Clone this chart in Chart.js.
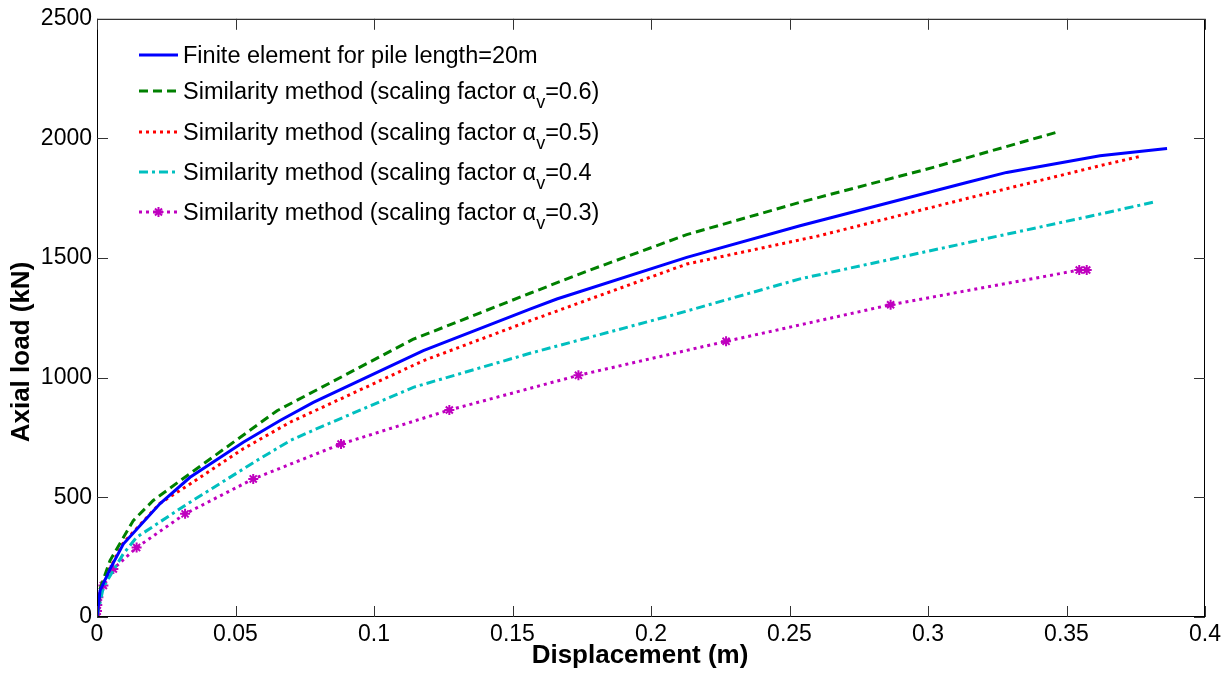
<!DOCTYPE html>
<html><head><meta charset="utf-8">
<script src="https://cdn.jsdelivr.net/npm/chart.js@4"></script>
<style>html,body{margin:0;padding:0;background:#fff}#wrap{width:1232px;height:675px;position:relative}</style>
</head><body><div id="wrap"><canvas id="c"></canvas></div>
<script>
// ---- data (displacement in m, axial load in kN) ----
const xFE  = [0, 0.0011, 0.0047, 0.0095, 0.0227, 0.0336, 0.0528, 0.0661, 0.0781, 0.1178, 0.1563, 0.166, 0.2129, 0.2538, 0.314, 0.3284, 0.3621, 0.3863];
const yFE  = [0, 110, 200, 305, 473, 584, 730, 821, 897, 1113, 1287, 1329, 1503, 1635, 1816, 1858, 1928, 1958];
const xA06 = [0, 0.0011, 0.0047, 0.0131, 0.0203, 0.031, 0.065, 0.114, 0.1563, 0.1768, 0.2129, 0.2538, 0.3019, 0.3462];
const yA06 = [0, 118, 236, 403, 487, 578, 862, 1160, 1353, 1445, 1598, 1733, 1879, 2025];
const xA05 = [0, 0.0011, 0.0047, 0.0095, 0.0227, 0.0336, 0.0528, 0.0697, 0.1178, 0.1563, 0.2129, 0.261, 0.314, 0.3621, 0.3765];
const yA05 = [0, 111, 205, 310, 475, 556, 703, 814, 1071, 1238, 1475, 1594, 1749, 1886, 1925];
const xA04 = [0, 0.0023, 0.0095, 0.0143, 0.032, 0.0577, 0.0697, 0.076, 0.1142, 0.1563, 0.2069, 0.2538, 0.3621, 0.3823];
const yA04 = [0, 125, 264, 333, 468, 654, 737, 770, 960, 1102, 1259, 1413, 1684, 1736];
const xA03 = [0, 0, 0.0001, 0.0005, 0.0023, 0.0059, 0.0143, 0.0318, 0.0564, 0.0881, 0.1272, 0.1738, 0.2271, 0.2865, 0.3546, 0.3573];
const yA03 = [0, 25, 50, 83, 132, 201, 290, 431, 577, 723, 865, 1010, 1152, 1305, 1450, 1450];
const xTicks = [0, 0.05, 0.1, 0.15, 0.2, 0.25, 0.3, 0.35, 0.4];
const yTicks = [0, 500, 1000, 1500, 2000, 2500];
const xTitle = 'Displacement (m)';
const yTitle = 'Axial load (kN)';
const legendMain = ['Finite element for pile length=20m',
  'Similarity method (scaling factor \u03B1', 'Similarity method (scaling factor \u03B1',
  'Similarity method (scaling factor \u03B1', 'Similarity method (scaling factor \u03B1'];
const legendSub = ['', 'v', 'v', 'v', 'v'];
const legendTail = ['', '=0.6)', '=0.5)', '=0.4', '=0.3)'];

const pts = (xs, ys) => xs.map((v, i) => ({x: v, y: ys[i]}));
const FONT = '"Liberation Sans", Arial, sans-serif';

const datasets = [
  {data: pts(xFE, yFE), borderColor: '#0000ff', borderWidth: 3, borderDash: []},
  {data: pts(xA06, yA06), borderColor: '#008000', borderWidth: 3, borderDash: [9, 5]},
  {data: pts(xA05, yA05), borderColor: '#ff0000', borderWidth: 3, borderDash: [3, 4]},
  {data: pts(xA04, yA04), borderColor: '#00bfbf', borderWidth: 3, borderDash: [9, 4, 3, 4]},
  {data: pts(xA03, yA03), borderColor: '#bf00bf', borderWidth: 3, borderDash: [3, 4],
   pointRadius: 5, pointStyle: 'star', pointBorderColor: '#bf00bf', pointBorderWidth: 2}
].map(d => Object.assign({showLine: true, fill: false, tension: 0, pointRadius: 0, pointHoverRadius: 0}, d));

const framePlugin = {
  id: 'frame',
  afterDraw(chart) {
    const {ctx, chartArea: a, scales: {x, y}} = chart;
    ctx.save();
    ctx.setLineDash([]);
    ctx.strokeStyle = '#000';
    ctx.lineWidth = 1;
    ctx.strokeRect(a.left + 0.5, a.top + 0.5, a.right - a.left - 1, a.bottom - a.top - 1);
    const L = 11;
    ctx.strokeStyle = '#333';
    ctx.beginPath();
    x.ticks.forEach(t => {
      const p = Math.round(x.getPixelForValue(t.value)) + 0.5;
      ctx.moveTo(p, a.bottom); ctx.lineTo(p, a.bottom - L);
      ctx.moveTo(p, a.top); ctx.lineTo(p, a.top + L);
    });
    y.ticks.forEach(t => {
      const p = Math.round(y.getPixelForValue(t.value)) + 0.5;
      ctx.moveTo(a.left, p); ctx.lineTo(a.left + L, p);
      ctx.moveTo(a.right, p); ctx.lineTo(a.right - L, p);
    });
    ctx.stroke();
    // axis titles
    ctx.fillStyle = '#000';
    ctx.font = 'bold 26px ' + FONT;
    ctx.textAlign = 'center';
    ctx.textBaseline = 'middle';
    ctx.fillText(xTitle, 640, 656);
    ctx.save();
    ctx.translate(22, 352);
    ctx.rotate(-Math.PI / 2);
    ctx.fillText(yTitle, 0, 0);
    ctx.restore();
    // legend
    const rows = [55, 91, 132, 172, 212];
    const x0 = 139, x1 = 178, tx = 183;
    chart.data.datasets.forEach((d, i) => {
      const ry = rows[i];
      ctx.strokeStyle = d.borderColor;
      ctx.lineWidth = d.borderWidth;
      ctx.setLineDash(d.borderDash || []);
      ctx.beginPath(); ctx.moveTo(x0, ry); ctx.lineTo(x1, ry); ctx.stroke();
      ctx.setLineDash([]);
      if (d.pointRadius) {
        const cx = (x0 + x1) / 2, r = d.pointRadius;
        ctx.lineWidth = d.pointBorderWidth;
        ctx.beginPath();
        ctx.moveTo(cx - r * 0.7, ry - r * 0.7); ctx.lineTo(cx + r * 0.7, ry + r * 0.7);
        ctx.moveTo(cx + r * 0.7, ry - r * 0.7); ctx.lineTo(cx - r * 0.7, ry + r * 0.7);
        ctx.moveTo(cx, ry - r); ctx.lineTo(cx, ry + r);
        ctx.moveTo(cx - r, ry); ctx.lineTo(cx + r, ry);
        ctx.stroke();
      }
      ctx.fillStyle = '#000';
      ctx.textBaseline = 'alphabetic';
      ctx.textAlign = 'left';
      ctx.font = '23.5px ' + FONT;
      const base = ry + 8;
      ctx.fillText(legendMain[i], tx, base);
      let w = ctx.measureText(legendMain[i]).width;
      if (legendSub[i]) {
        ctx.font = '18px ' + FONT;
        ctx.fillText(legendSub[i], tx + w, base + 9);
        w += ctx.measureText(legendSub[i]).width;
        ctx.font = '23.5px ' + FONT;
        ctx.fillText(legendTail[i], tx + w, base);
      }
    });
    ctx.restore();
  }
};

new Chart(document.getElementById('c'), {
  type: 'scatter',
  data: {datasets},
  plugins: [framePlugin],
  options: {
    responsive: true, maintainAspectRatio: false, animation: false,
    layout: {padding: {top: 18, right: 27, left: 0, bottom: 0}},
    plugins: {legend: {display: false}, tooltip: {enabled: false}},
    scales: {
      x: {
        type: 'linear', min: 0, max: 0.4,
        afterBuildTicks: s => { s.ticks = xTicks.map(v => ({value: v})); },
        afterFit: s => { s.height = 58; },
        grid: {display: false, drawTicks: false},
        border: {display: false},
        ticks: {color: '#000', padding: 4, font: {family: FONT, size: 23},
                callback: v => String(parseFloat(Number(v).toFixed(2)))},
        title: {display: false}
      },
      y: {
        type: 'linear', min: 0, max: 2500,
        afterBuildTicks: s => { s.ticks = yTicks.map(v => ({value: v})); },
        afterFit: s => { s.width = 97; },
        grid: {display: false, drawTicks: false},
        border: {display: false},
        ticks: {color: '#000', padding: 5, font: {family: FONT, size: 23},
                callback: v => String(v)},
        title: {display: false}
      }
    }
  }
});
</script></body></html>
